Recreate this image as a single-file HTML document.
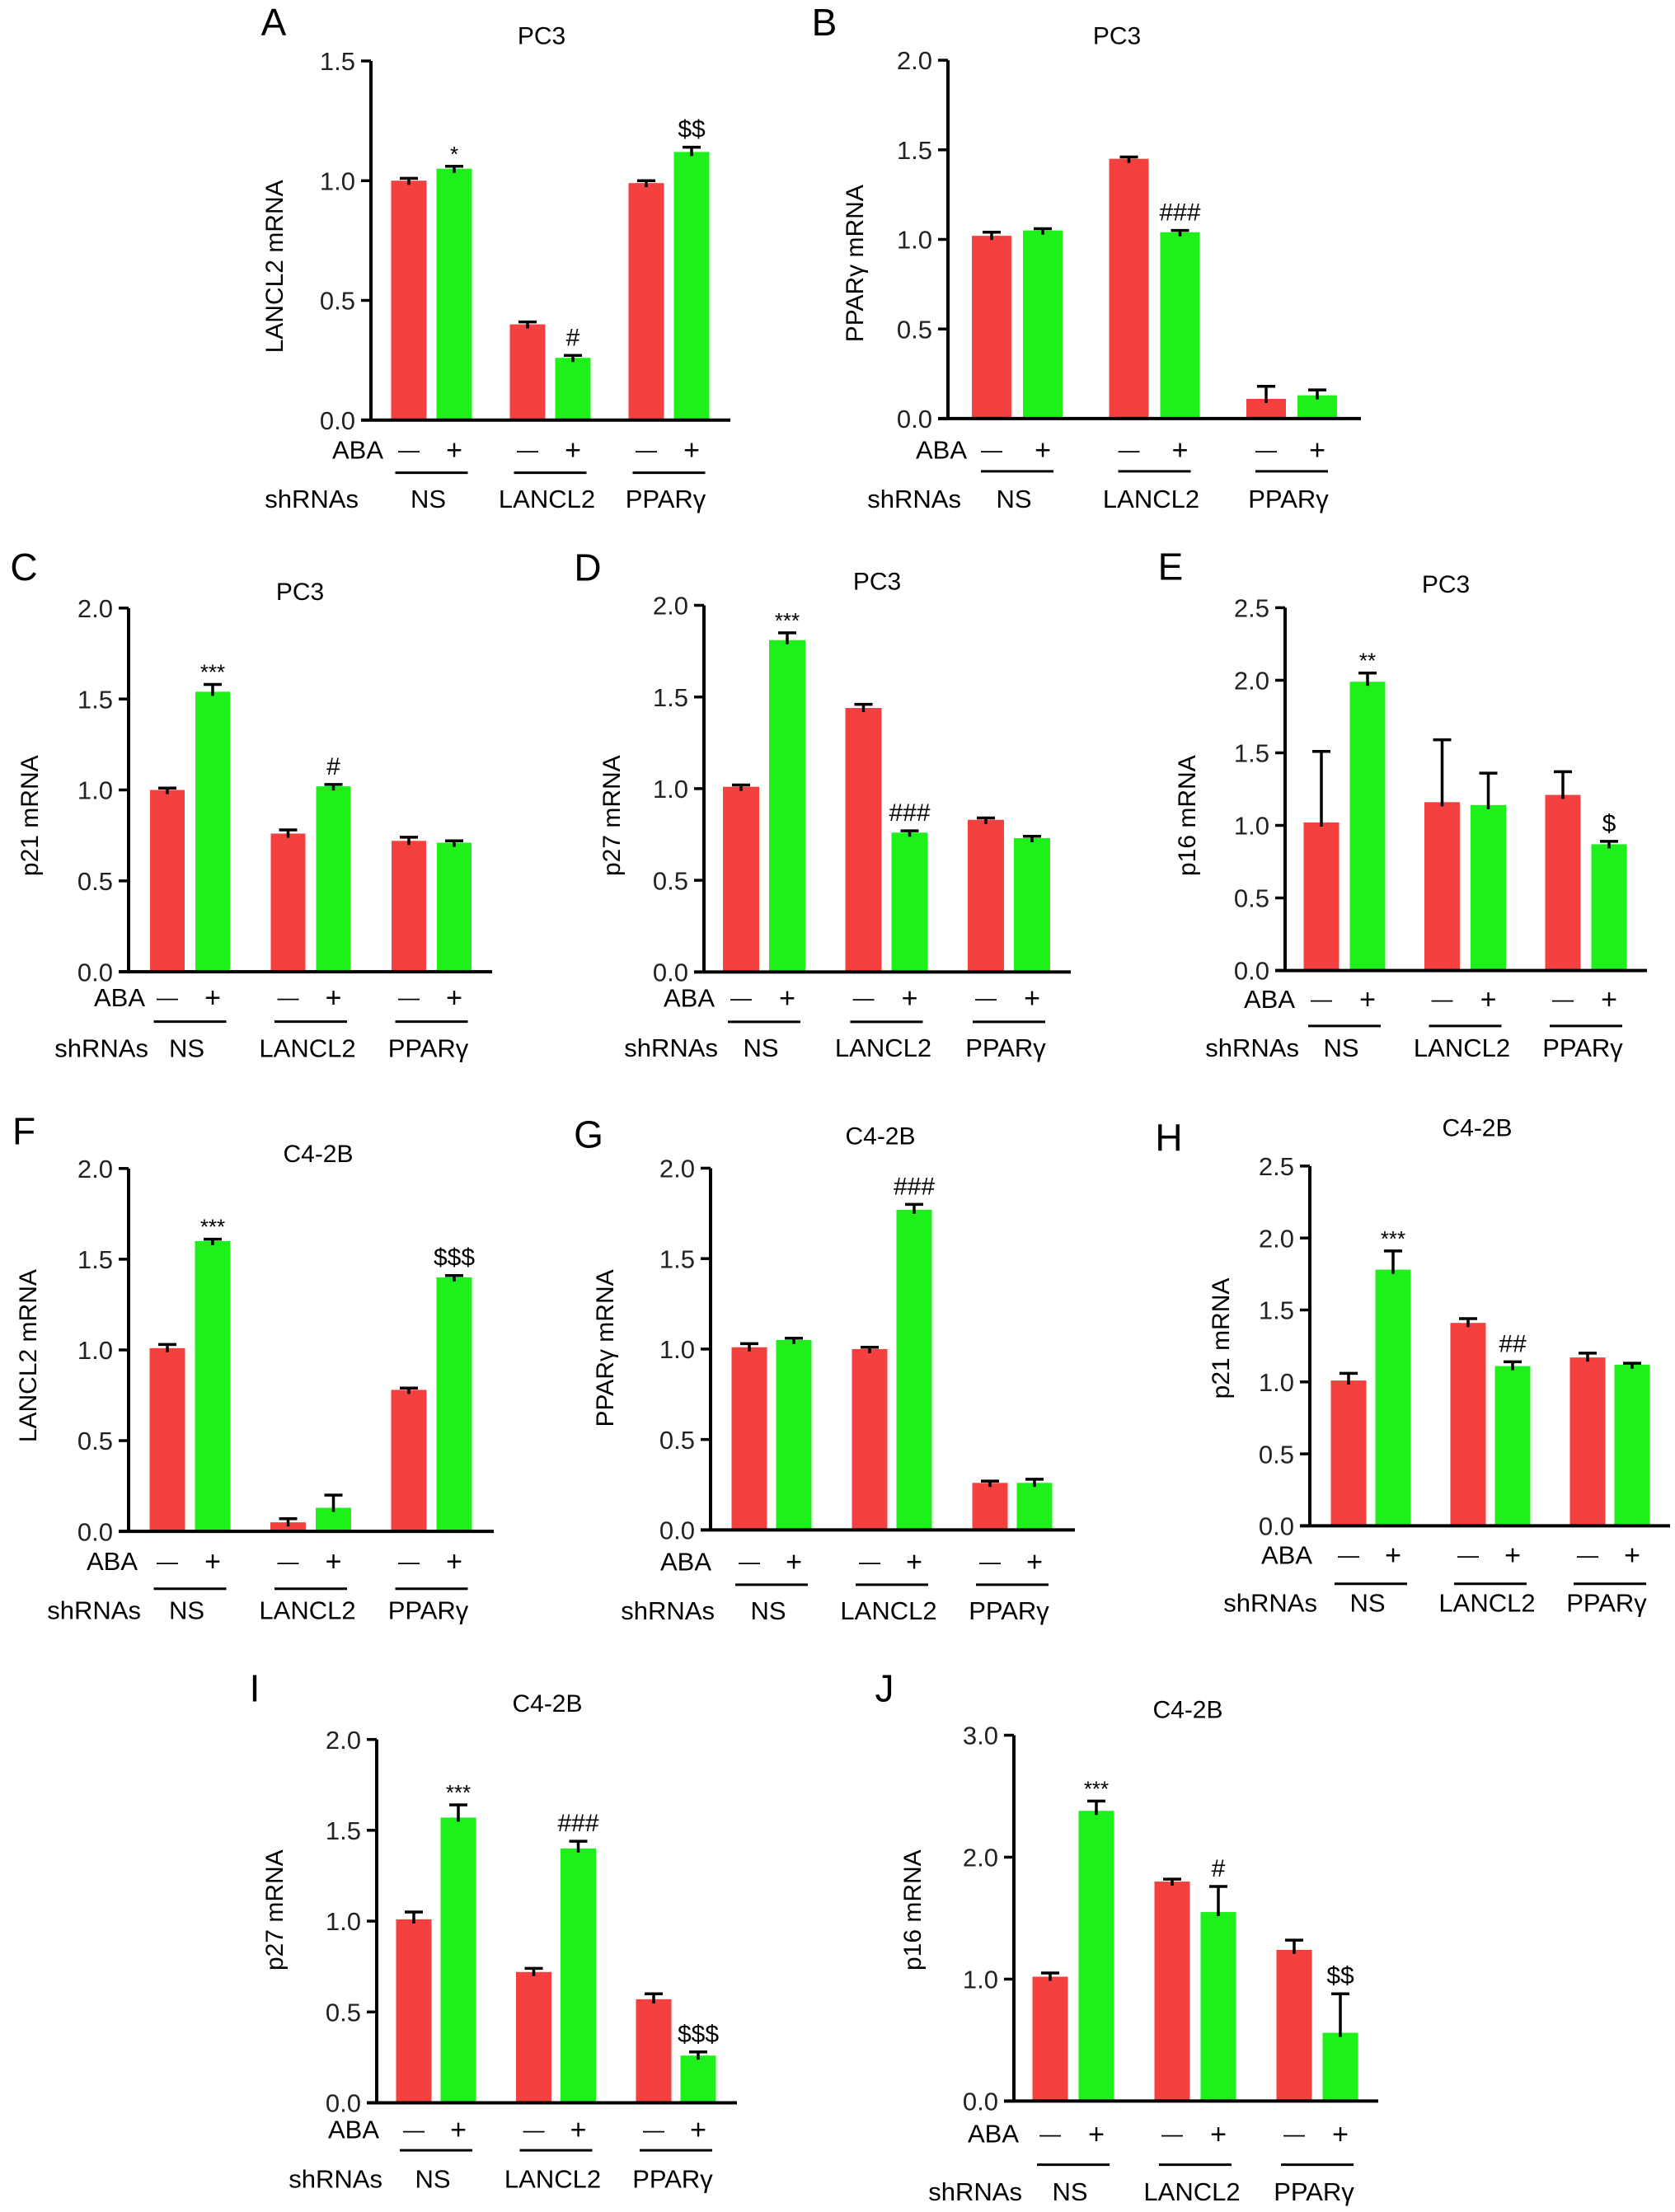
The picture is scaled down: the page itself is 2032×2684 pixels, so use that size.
<!DOCTYPE html>
<html><head><meta charset="utf-8"><style>
html,body{margin:0;padding:0;background:#fff;}
svg{display:block;font-family:"Liberation Sans",Arial,sans-serif;}
</style></head><body>
<svg id="fig" xmlns="http://www.w3.org/2000/svg" width="2032" height="2684" viewBox="0 0 2032 2684"></svg>
<script>
// ---- data (means and SEM per bar: NS-, NS+, LANCL2-, LANCL2+, PPARg-, PPARg+) ----
const groups = ["NS", "LANCL2", "PPARγ"];
const A_means = [1.00, 1.05, 0.40, 0.26, 0.99, 1.12];
const A_errs  = [0.01, 0.01, 0.01, 0.01, 0.01, 0.02];
const A_marks = ["", "*", "", "#", "", "$$"];
const A_ticks = [0, 0.5, 1.0, 1.5];
const B_means = [1.02, 1.05, 1.45, 1.04, 0.11, 0.13];
const B_errs  = [0.02, 0.01, 0.01, 0.01, 0.07, 0.03];
const B_marks = ["", "", "", "###", "", ""];
const B_ticks = [0, 0.5, 1.0, 1.5, 2.0];
const C_means = [1.00, 1.54, 0.76, 1.02, 0.72, 0.71];
const C_errs  = [0.01, 0.04, 0.02, 0.01, 0.02, 0.01];
const C_marks = ["", "***", "", "#", "", ""];
const C_ticks = [0, 0.5, 1.0, 1.5, 2.0];
const D_means = [1.01, 1.81, 1.44, 0.76, 0.83, 0.73];
const D_errs  = [0.01, 0.04, 0.02, 0.01, 0.01, 0.01];
const D_marks = ["", "***", "", "###", "", ""];
const D_ticks = [0, 0.5, 1.0, 1.5, 2.0];
const E_means = [1.02, 1.99, 1.16, 1.14, 1.21, 0.87];
const E_errs  = [0.49, 0.06, 0.43, 0.22, 0.16, 0.02];
const E_marks = ["", "**", "", "", "", "$"];
const E_ticks = [0, 0.5, 1.0, 1.5, 2.0, 2.5];
const F_means = [1.01, 1.60, 0.05, 0.13, 0.78, 1.40];
const F_errs  = [0.02, 0.01, 0.02, 0.07, 0.01, 0.01];
const F_marks = ["", "***", "", "", "", "$$$"];
const F_ticks = [0, 0.5, 1.0, 1.5, 2.0];
const G_means = [1.01, 1.05, 1.00, 1.77, 0.26, 0.26];
const G_errs  = [0.02, 0.01, 0.01, 0.03, 0.01, 0.02];
const G_marks = ["", "", "", "###", "", ""];
const G_ticks = [0, 0.5, 1.0, 1.5, 2.0];
const H_means = [1.01, 1.78, 1.41, 1.11, 1.17, 1.12];
const H_errs  = [0.05, 0.13, 0.03, 0.03, 0.03, 0.01];
const H_marks = ["", "***", "", "##", "", ""];
const H_ticks = [0, 0.5, 1.0, 1.5, 2.0, 2.5];
const I_means = [1.01, 1.57, 0.72, 1.40, 0.57, 0.26];
const I_errs  = [0.04, 0.07, 0.02, 0.04, 0.03, 0.02];
const I_marks = ["", "***", "", "###", "", "$$$"];
const I_ticks = [0, 0.5, 1.0, 1.5, 2.0];
const J_means = [1.02, 2.38, 1.80, 1.55, 1.24, 0.56];
const J_errs  = [0.03, 0.08, 0.02, 0.21, 0.08, 0.32];
const J_marks = ["", "***", "", "#", "", "$$"];
const J_ticks = [0, 1.0, 2.0, 3.0];

// ---- layout (pixel geometry only) ----
const panels = [
 {id:"A",cell:"PC3",  yl:"LANCL2 mRNA",means:A_means,errs:A_errs,marks:A_marks,ticks:A_ticks,ymax:1.5,cy:0,f:0.9135,ax:450,top:81,y0:558,end:886,r0:496,gs:144,d:55,bw:43,tx:657,ty:47,lx:332,ly:29,ylx:332,yly:354,aba:597,ul:628,sh:662,abaR:465,shR:435},
 {id:"B",cell:"PC3",  yl:"PPARγ mRNA",means:B_means,errs:B_errs,marks:B_marks,ticks:B_ticks,ymax:2.0,cy:0,f:0.9135,ax:1150,top:80,y0:556,end:1651,r0:1203,gs:166.5,d:62,bw:48,tx:1355,ty:47,lx:1000,ly:29,ylx:1036,yly:350,aba:597,ul:626,sh:662,abaR:1173,shR:1166},
 {id:"C",cell:"PC3",  yl:"p21 mRNA",means:C_means,errs:C_errs,marks:C_marks,ticks:C_ticks,ymax:2.0,cy:660,f:1.024,ax:156,top:736,y0:1167,end:597,r0:203,gs:146.5,d:55,bw:42,tx:364,ty:716,lx:29,ly:687,ylx:35,yly:982,aba:1197,ul:1226,sh:1257,abaR:176,shR:180},
 {id:"D",cell:"PC3",  yl:"p27 mRNA",means:D_means,errs:D_errs,marks:D_marks,ticks:D_ticks,ymax:2.0,cy:660,f:0.993,ax:854,top:735,y0:1183,end:1299,r0:899,gs:148.5,d:56,bw:44,tx:1064,ty:705,lx:713,ly:688,ylx:741,yly:992,aba:1214,ul:1244,sh:1275,abaR:867,shR:871},
 {id:"E",cell:"PC3",  yl:"p16 mRNA",means:E_means,errs:E_errs,marks:E_marks,ticks:E_ticks,ymax:2.5,cy:660,f:1.005,ax:1559,top:737,y0:1175,end:1998,r0:1603,gs:146.5,d:56,bw:43,tx:1754,ty:708,lx:1420,ly:687,ylx:1439,yly:988,aba:1209,ul:1242,sh:1268,abaR:1571,shR:1576},
 {id:"F",cell:"C4-2B",yl:"LANCL2 mRNA",means:F_means,errs:F_errs,marks:F_marks,ticks:F_ticks,ymax:2.0,cy:1340,f:1.024,ax:156,top:1416,y0:1846,end:599,r0:203,gs:146.5,d:55,bw:43,tx:386,ty:1398,lx:29,ly:1371,ylx:33,yly:1638,aba:1881,ul:1914,sh:1939,abaR:167,shR:171},
 {id:"G",cell:"C4-2B",yl:"PPARγ mRNA",means:G_means,errs:G_errs,marks:G_marks,ticks:G_ticks,ymax:2.0,cy:1340,f:0.993,ax:862,top:1418,y0:1860,end:1304,r0:909,gs:146,d:54,bw:43,tx:1068,ty:1378,lx:714,ly:1376,ylx:733,yly:1638,aba:1898,ul:1927,sh:1958,abaR:863,shR:867},
 {id:"H",cell:"C4-2B",yl:"p21 mRNA",means:H_means,errs:H_errs,marks:H_marks,ticks:H_ticks,ymax:2.5,cy:1320,f:1.02,ax:1589,top:1413,y0:1841,end:2026,r0:1636,gs:145,d:54,bw:43,tx:1792,ty:1367,lx:1418,ly:1379,ylx:1480,yly:1618,aba:1875,ul:1910,sh:1932,abaR:1592,shR:1598},
 {id:"I",cell:"C4-2B",yl:"p27 mRNA",means:I_means,errs:I_errs,marks:I_marks,ticks:I_ticks,ymax:2.0,cy:2020,f:1.03,ax:457,top:2108,y0:2536,end:894,r0:502,gs:145.5,d:54,bw:43,tx:664,ty:2065,lx:309,ly:2047,ylx:332,yly:2309,aba:2567,ul:2592,sh:2625,abaR:460,shR:464},
 {id:"J",cell:"C4-2B",yl:"p16 mRNA",means:J_means,errs:J_errs,marks:J_marks,ticks:J_ticks,ymax:3.0,cy:2020,f:1.03,ax:1230,top:2103,y0:2534,end:1672,r0:1274,gs:148,d:56,bw:43,tx:1441,ty:2072,lx:1073,ly:2047,ylx:1106,yly:2309,aba:2572,ul:2609,sh:2640,abaR:1236,shR:1240}
];
// correct vertical geometry
panels.forEach(p => {
  ["top","y0","ty","ly","yly","aba","ul","sh"].forEach(k => { p[k] = p.cy + (p[k] - p.cy) * p.f; });
});

const NS = "http://www.w3.org/2000/svg";
const svg = document.getElementById("fig");
function mk(tag, attrs, parent, txt){
  const e = document.createElementNS(NS, tag);
  for (const k in attrs) e.setAttribute(k, attrs[k]);
  if (txt !== undefined) e.textContent = txt;
  parent.appendChild(e);
  return e;
}
const RED = "#f4403f", GREEN = "#1ef01c";

panels.forEach(p => {
  const g = mk("g", {}, svg);
  
  
  const y = v => p.y0 - (v / p.ymax) * (p.y0 - p.top);
  const xc = i => p.r0 + Math.floor(i / 2) * p.gs + (i % 2) * p.d;
  const gc = k => p.r0 + k * p.gs + p.d / 2;

  let t = mk("text", {x:p.lx, y:p.ly, "font-size":46, "text-anchor":"middle", dy:"0.36em"}, g, p.id);
  
  
  t = mk("text", {x:p.tx, y:p.ty, "font-size":30, "text-anchor":"middle", dy:"0.36em"}, g, p.cell);
  
  
  t = mk("text", {x:p.ylx, y:p.yly, "font-size":30, "text-anchor":"middle", dy:"0.36em", transform:`rotate(-90 ${p.ylx} ${p.yly})`}, g, p.yl);
  
  

  p.means.forEach((v, i) => {
    const cx = xc(i);
    const r = mk("rect", {x:cx - p.bw/2, y:y(v), width:p.bw, height:p.y0 - y(v), fill: i % 2 ? GREEN : RED}, g);
    
    
    const e = p.errs[i];
    const eb = mk("path", {d:`M${cx} ${y(v)+5} L${cx} ${y(v+e)} M${cx-11} ${y(v+e)} L${cx+11} ${y(v+e)}`, stroke:"#000", "stroke-width":3.5, fill:"none"}, g);
    
    
    if (p.marks[i]) {
      const star = p.marks[i].indexOf("*") >= 0;
      const m = mk("text", {x:cx, y:y(v+e) - (star ? 6 : 12), "font-size": star ? 26 : 30, "text-anchor":"middle"}, g, p.marks[i]);
      
      
    }
  });

  const ax = mk("path", {d:`M${p.ax} ${p.top} L${p.ax} ${p.y0} M${p.ax-12} ${p.y0} L${p.end} ${p.y0}`, stroke:"#000", "stroke-width":4, fill:"none"}, g);
  
  
  p.ticks.forEach(tv => {
    const tk = mk("line", {x1:p.ax-12, x2:p.ax, y1:y(tv), y2:y(tv), stroke:"#000", "stroke-width":3.5}, g);
    
    
    const tl = mk("text", {x:p.ax-19, y:y(tv), "font-size":31, "text-anchor":"end", dy:"0.36em", fill:"#222"}, g, tv.toFixed(1));
    
    
  });

  t = mk("text", {x:p.abaR, y:p.aba, "font-size":31, "text-anchor":"end", dy:"0.36em"}, g, "ABA");
  
  
  t = mk("text", {x:p.shR, y:p.sh, "font-size":31, "text-anchor":"end", dy:"0.36em"}, g, "shRNAs");
  
  
  p.means.forEach((v, i) => {
    const s = mk("text", {x:xc(i), y:p.aba, "font-size": i % 2 ? 34 : 26, "text-anchor":"middle", dy:"0.36em"}, g, i % 2 ? "+" : "—");
    
    
  });
  groups.forEach((name, k) => {
    const c = gc(k);
    const l = mk("line", {x1:c-44, x2:c+44, y1:p.ul, y2:p.ul, stroke:"#000", "stroke-width":3}, g);
    
    
    const gl = mk("text", {x:c-4, y:p.sh, "font-size":31, "text-anchor":"middle", dy:"0.36em"}, g, name);
    
    
  });
});
</script>
</body></html>
